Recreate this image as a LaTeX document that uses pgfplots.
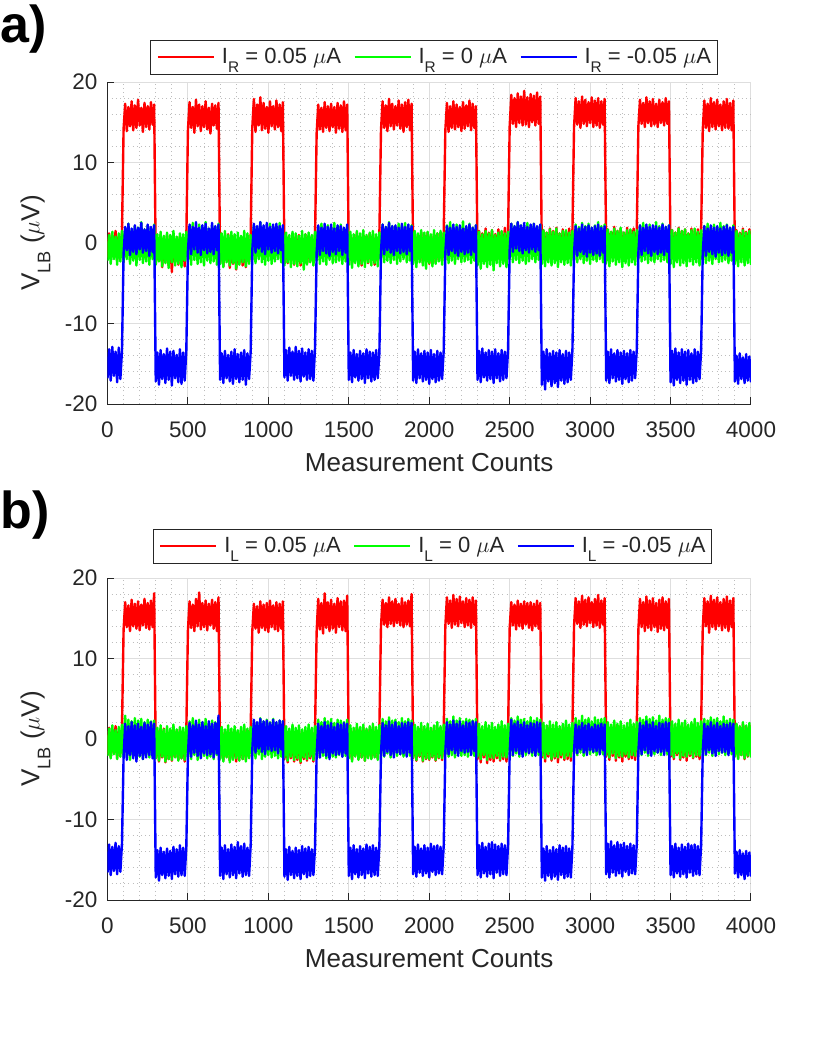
\documentclass[border=0pt]{standalone}
\usepackage{fontspec}
\setmainfont{Liberation Sans}
\usepackage{graphicx}
\usepackage{pgfplots}
\usepackage{pgfplotstable}
\pgfplotsset{compat=1.18}
\definecolor{axgray}{rgb}{0.15,0.15,0.15}
\definecolor{gmaj}{rgb}{0.87,0.87,0.87}
\definecolor{gmin}{rgb}{0.74,0.74,0.74}
\definecolor{mred}{rgb}{1,0,0}
\definecolor{mgreen}{rgb}{0,1,0}
\definecolor{mblue}{rgb}{0,0,1}
\newcommand{\sub}[1]{\raisebox{-0.42em}{\scalebox{0.7}{#1}}}

% ---------- panel a data (x = 10 * row index) ----------
\pgfplotstableread[header=false,row sep=\\]{
-1.8\\1.2\\-2.0\\0.9\\-1.6\\1.5\\-2.1\\0.8\\-1.4\\1.3\\
14.2\\17.3\\13.9\\16.9\\14.5\\17.6\\14.0\\17.1\\14.3\\17.8\\14.6\\16.8\\13.8\\17.4\\14.4\\17.0\\14.1\\17.5\\14.7\\17.2\\
-2.6\\0.6\\-2.2\\0.9\\-3.0\\0.4\\-2.4\\1.0\\-2.8\\0.5\\-3.6\\0.7\\-2.3\\0.3\\-2.7\\0.8\\-2.1\\0.5\\-2.9\\0.6\\
14.0\\17.5\\14.3\\16.9\\13.7\\17.8\\14.5\\17.2\\13.9\\17.0\\14.4\\17.6\\14.1\\16.8\\13.6\\17.3\\14.6\\17.1\\14.2\\17.4\\
-2.4\\0.7\\-2.9\\0.4\\-2.2\\1.1\\-3.1\\0.5\\-2.6\\0.9\\-3.3\\0.3\\-2.5\\0.8\\-2.8\\0.4\\-3.0\\0.6\\-2.3\\0.9\\
14.3\\17.9\\13.8\\17.2\\14.6\\18.1\\14.0\\17.4\\14.2\\16.9\\13.7\\17.6\\14.5\\17.0\\14.1\\17.7\\14.4\\17.2\\13.9\\17.5\\
-2.0\\0.9\\-2.5\\0.6\\-1.9\\1.2\\-2.7\\0.8\\-2.2\\1.0\\-2.8\\0.5\\-2.1\\1.1\\-2.6\\0.7\\-2.3\\0.9\\-2.5\\0.6\\
13.6\\17.2\\14.1\\16.8\\13.8\\17.5\\14.3\\17.0\\13.9\\17.3\\14.4\\16.9\\13.7\\17.4\\14.2\\17.1\\13.8\\17.6\\14.0\\17.2\\
-2.1\\1.0\\-2.6\\0.7\\-2.0\\1.3\\-2.4\\0.8\\-2.8\\1.0\\-2.2\\0.6\\-2.5\\1.2\\-2.0\\0.9\\-2.7\\0.7\\-2.3\\1.1\\
14.0\\17.6\\14.3\\17.1\\13.9\\17.9\\14.5\\17.3\\14.1\\17.0\\14.6\\17.7\\14.2\\17.2\\13.8\\17.5\\14.4\\17.8\\14.0\\17.3\\
-1.8\\1.2\\-2.3\\0.9\\-1.7\\1.4\\-2.5\\1.0\\-2.0\\1.3\\-2.6\\0.8\\-1.9\\1.1\\-2.4\\1.2\\-2.1\\0.9\\-2.2\\1.3\\
14.0\\17.4\\13.8\\17.0\\14.3\\17.6\\14.1\\17.2\\14.4\\16.9\\13.9\\17.5\\14.2\\17.1\\14.5\\17.7\\14.0\\17.3\\14.3\\17.0\\
-1.6\\1.5\\-2.0\\1.2\\-1.5\\1.8\\-2.2\\1.3\\-1.7\\1.6\\-2.4\\1.1\\-1.8\\1.7\\-2.1\\1.4\\-1.6\\1.9\\-2.0\\1.3\\
14.5\\18.4\\14.8\\18.0\\14.4\\18.6\\14.9\\18.2\\14.6\\18.9\\14.7\\18.1\\14.4\\18.5\\15.0\\18.3\\14.6\\18.7\\14.8\\18.2\\
-1.5\\1.6\\-1.9\\1.3\\-1.4\\1.8\\-2.0\\1.5\\-1.6\\1.9\\-2.1\\1.2\\-1.7\\1.7\\-1.5\\1.4\\-1.9\\1.8\\-1.6\\1.5\\
14.4\\18.0\\14.7\\17.6\\14.3\\18.2\\14.8\\17.8\\14.5\\17.5\\14.9\\18.1\\14.4\\17.7\\14.6\\18.0\\14.3\\17.6\\14.7\\17.9\\
-1.4\\1.7\\-1.8\\1.4\\-1.5\\2.0\\-1.9\\1.5\\-1.6\\1.8\\-2.0\\1.3\\-1.5\\1.9\\-1.7\\1.6\\-1.4\\1.8\\-1.9\\1.5\\
14.5\\17.8\\14.8\\17.4\\14.4\\18.1\\14.9\\17.6\\14.5\\17.9\\14.7\\17.3\\14.4\\17.8\\14.9\\17.5\\14.6\\18.0\\14.8\\17.6\\
-1.4\\1.6\\-1.9\\1.3\\-1.5\\1.9\\-2.0\\1.5\\-1.6\\1.7\\-2.1\\1.2\\-1.5\\1.8\\-1.8\\1.5\\-1.4\\1.7\\-1.9\\1.6\\
14.0\\17.7\\14.3\\17.3\\13.9\\18.0\\14.4\\17.5\\14.1\\17.8\\14.5\\17.2\\14.0\\17.6\\14.3\\17.9\\14.2\\17.4\\14.0\\17.7\\
-1.5\\1.6\\-1.9\\1.3\\-1.4\\1.8\\-2.0\\1.4\\-1.6\\1.7\\-1.2\\
}\redA

\pgfplotstableread[header=false,row sep=\\]{
-2.2\\1.0\\-2.6\\1.4\\-2.0\\0.8\\-2.7\\1.2\\-2.3\\1.5\\
-2.4\\1.8\\-2.0\\2.4\\-2.6\\1.6\\-2.2\\2.1\\-2.8\\1.9\\-2.1\\2.6\\-2.5\\1.7\\-2.3\\2.2\\-2.7\\1.8\\-2.0\\2.3\\
-2.7\\1.1\\-2.3\\1.4\\-2.9\\0.9\\-2.5\\1.3\\-3.1\\1.0\\-2.4\\1.5\\-2.8\\0.8\\-2.6\\1.2\\-3.0\\1.1\\-2.2\\1.4\\
-2.3\\2.0\\-2.7\\2.5\\-2.1\\1.7\\-2.6\\2.3\\-2.4\\1.9\\-2.8\\2.6\\-2.2\\1.8\\-2.5\\2.2\\-2.3\\2.0\\-2.7\\2.4\\
-2.6\\1.2\\-3.0\\1.5\\-2.4\\1.0\\-2.8\\1.4\\-2.5\\1.1\\-3.2\\1.3\\-2.7\\0.9\\-2.4\\1.5\\-2.9\\1.2\\-2.6\\1.0\\
-2.1\\2.2\\-2.5\\1.9\\-2.0\\2.6\\-2.4\\2.0\\-2.7\\1.8\\-2.2\\2.4\\-2.6\\1.9\\-2.3\\2.1\\-2.0\\2.5\\-2.4\\1.8\\
-2.8\\1.3\\-2.4\\1.0\\-3.0\\1.4\\-2.6\\1.2\\-2.9\\0.9\\-2.5\\1.5\\-3.3\\1.1\\-2.7\\1.3\\-2.4\\1.0\\-2.8\\1.4\\
-2.2\\2.1\\-2.6\\2.4\\-2.3\\1.8\\-2.7\\2.2\\-2.1\\1.9\\-2.5\\2.5\\-2.4\\2.0\\-2.2\\2.3\\-2.6\\1.8\\-2.3\\2.1\\
-2.7\\1.4\\-3.1\\1.1\\-2.5\\1.5\\-2.9\\1.2\\-2.6\\1.6\\-3.0\\1.0\\-2.4\\1.3\\-2.8\\1.5\\-2.5\\1.1\\-2.9\\1.3\\
-2.0\\2.3\\-2.4\\2.0\\-2.2\\2.6\\-2.5\\2.1\\-2.1\\1.9\\-2.6\\2.4\\-2.3\\2.2\\-2.0\\2.5\\-2.4\\1.9\\-2.2\\2.2\\
-2.6\\1.5\\-3.0\\1.2\\-2.4\\1.6\\-2.8\\1.3\\-3.2\\1.4\\-2.5\\1.1\\-2.9\\1.6\\-2.6\\1.2\\-2.3\\1.5\\-2.7\\1.3\\
-2.1\\2.2\\-2.5\\2.6\\-2.2\\1.9\\-2.6\\2.3\\-2.0\\2.1\\-2.4\\2.7\\-2.3\\2.0\\-2.1\\2.4\\-2.5\\1.9\\-2.2\\2.2\\
-2.8\\1.4\\-3.2\\1.1\\-2.6\\1.5\\-3.0\\1.2\\-2.7\\1.6\\-3.4\\1.0\\-2.5\\1.3\\-2.9\\1.5\\-2.6\\1.2\\-3.0\\1.4\\
-2.0\\2.4\\-2.4\\2.1\\-2.1\\2.6\\-2.5\\2.2\\-2.2\\2.0\\-2.6\\2.5\\-2.3\\2.2\\-2.0\\2.4\\-2.4\\2.0\\-2.1\\2.3\\
-2.6\\1.6\\-2.9\\1.3\\-2.4\\1.7\\-2.8\\1.4\\-2.5\\1.8\\-3.0\\1.2\\-2.4\\1.5\\-2.7\\1.6\\-2.5\\1.3\\-2.8\\1.5\\
-2.1\\2.3\\-2.4\\2.0\\-2.0\\2.5\\-2.5\\2.1\\-2.2\\2.4\\-2.6\\1.9\\-2.1\\2.2\\-2.3\\2.6\\-2.0\\2.1\\-2.4\\2.3\\
-2.5\\1.7\\-2.9\\1.4\\-2.3\\1.8\\-2.7\\1.5\\-2.4\\1.9\\-3.0\\1.3\\-2.5\\1.6\\-2.8\\1.7\\-2.4\\1.4\\-2.7\\1.6\\
-2.0\\2.2\\-2.3\\2.5\\-2.1\\2.0\\-2.5\\2.3\\-2.2\\1.9\\-2.4\\2.6\\-2.0\\2.1\\-2.3\\2.4\\-2.1\\2.0\\-2.4\\2.2\\
-2.6\\1.6\\-3.0\\1.3\\-2.4\\1.8\\-2.8\\1.5\\-2.5\\1.7\\-2.9\\1.2\\-2.3\\1.6\\-2.7\\1.8\\-2.4\\1.4\\-2.8\\1.6\\
-2.1\\2.1\\-2.5\\2.4\\-2.2\\1.9\\-2.6\\2.3\\-2.0\\2.0\\-2.4\\2.5\\-2.3\\2.1\\-2.1\\2.3\\-2.5\\1.9\\-2.2\\2.2\\
-2.6\\1.5\\-2.9\\1.2\\-2.4\\1.6\\-2.8\\1.3\\-2.5\\1.5\\-2.7\\
}\greenA

\pgfplotstableread[header=false,row sep=\\]{
-16.8\\-13.2\\-17.1\\-12.9\\-16.5\\-13.5\\-17.3\\-13.0\\-16.9\\-13.4\\
-1.3\\2.0\\-0.9\\2.4\\-1.5\\1.8\\-1.1\\2.2\\-1.4\\1.9\\-0.8\\2.5\\-1.2\\1.7\\-1.0\\2.3\\-1.6\\2.0\\-1.1\\2.2\\
-17.2\\-13.6\\-17.6\\-13.3\\-16.9\\-13.8\\-17.4\\-13.1\\-17.0\\-13.5\\-17.7\\-13.4\\-16.8\\-13.9\\-17.3\\-13.2\\-17.5\\-13.6\\-17.1\\-13.3\\
-1.0\\2.3\\-1.4\\2.0\\-0.8\\2.6\\-1.2\\1.9\\-1.5\\2.2\\-0.9\\2.4\\-1.3\\1.8\\-1.1\\2.5\\-1.4\\2.1\\-0.9\\2.3\\
-17.0\\-13.7\\-17.4\\-13.4\\-16.8\\-13.9\\-17.2\\-13.5\\-17.5\\-13.2\\-16.9\\-13.8\\-17.3\\-13.6\\-17.0\\-13.3\\-17.6\\-13.7\\-16.9\\-13.5\\
-0.9\\2.4\\-1.2\\2.1\\-0.7\\2.6\\-1.1\\2.2\\-1.4\\2.5\\-0.8\\2.0\\-1.2\\2.3\\-1.0\\2.4\\-1.3\\2.1\\-0.9\\2.2\\
-16.7\\-13.3\\-17.1\\-13.0\\-16.5\\-13.5\\-17.0\\-12.9\\-16.8\\-13.4\\-17.2\\-13.1\\-16.6\\-13.6\\-17.0\\-13.2\\-16.9\\-13.4\\-17.1\\-13.0\\
-1.2\\2.2\\-1.5\\1.9\\-1.0\\2.4\\-1.3\\2.0\\-1.6\\2.3\\-1.1\\1.8\\-1.4\\2.2\\-1.0\\2.1\\-1.5\\1.9\\-1.2\\2.3\\
-17.0\\-13.6\\-17.3\\-13.3\\-16.7\\-13.8\\-17.1\\-13.4\\-16.9\\-13.7\\-17.4\\-13.2\\-16.8\\-13.5\\-17.2\\-13.6\\-17.0\\-13.3\\-16.8\\-13.7\\
-1.1\\2.3\\-1.4\\2.0\\-0.9\\2.5\\-1.2\\2.1\\-1.5\\2.2\\-1.0\\1.9\\-1.3\\2.4\\-1.1\\2.0\\-1.4\\2.3\\-1.0\\2.1\\
-17.1\\-13.5\\-17.4\\-13.2\\-16.8\\-13.7\\-17.2\\-13.4\\-17.0\\-13.6\\-17.5\\-13.3\\-16.9\\-13.8\\-17.3\\-13.4\\-17.1\\-13.6\\-16.9\\-13.3\\
-1.2\\2.1\\-1.5\\1.9\\-1.0\\2.3\\-1.3\\2.0\\-1.6\\2.2\\-1.1\\1.8\\-1.4\\2.1\\-1.2\\2.3\\-1.5\\1.9\\-1.1\\2.2\\
-17.0\\-13.4\\-17.3\\-13.1\\-16.7\\-13.6\\-17.1\\-13.3\\-16.9\\-13.5\\-17.4\\-13.2\\-16.8\\-13.7\\-17.2\\-13.3\\-17.0\\-13.5\\-16.8\\-13.2\\
-0.8\\2.4\\-1.1\\2.1\\-0.7\\2.6\\-1.0\\2.2\\-1.3\\2.5\\-0.9\\2.0\\-1.2\\2.3\\-0.8\\2.4\\-1.1\\2.1\\-0.9\\2.3\\
-17.6\\-13.5\\-18.2\\-13.2\\-17.2\\-13.7\\-17.8\\-13.4\\-17.4\\-13.6\\-17.9\\-13.3\\-17.1\\-13.8\\-17.5\\-13.4\\-17.3\\-13.6\\-17.0\\-13.3\\
-1.3\\2.1\\-1.6\\1.8\\-1.1\\2.3\\-1.4\\2.0\\-1.7\\2.2\\-1.2\\1.9\\-1.5\\2.1\\-1.3\\2.3\\-1.6\\1.9\\-1.2\\2.1\\
-17.1\\-13.5\\-17.4\\-13.2\\-16.8\\-13.7\\-17.2\\-13.3\\-17.0\\-13.6\\-17.5\\-13.4\\-16.9\\-13.7\\-17.3\\-13.3\\-17.1\\-13.5\\-16.8\\-13.2\\
-1.2\\2.2\\-1.5\\1.9\\-1.0\\2.3\\-1.3\\2.0\\-1.6\\2.2\\-1.1\\2.1\\-1.4\\1.9\\-1.2\\2.3\\-1.5\\2.0\\-1.1\\2.2\\
-17.3\\-13.4\\-17.7\\-13.1\\-17.0\\-13.6\\-17.4\\-13.2\\-17.1\\-13.5\\-17.6\\-13.3\\-17.0\\-13.7\\-17.4\\-13.2\\-17.2\\-13.5\\-16.9\\-13.3\\
-1.3\\2.1\\-1.6\\1.8\\-1.1\\2.2\\-1.4\\1.9\\-1.7\\2.1\\-1.2\\1.8\\-1.5\\2.0\\-1.3\\2.2\\-1.6\\1.9\\-1.2\\2.0\\
-17.2\\-14.0\\-17.5\\-13.7\\-16.9\\-14.2\\-17.4\\-13.8\\-17.1\\-14.1\\-17.3\\
}\blueA

% ---------- panel b data ----------
\pgfplotstableread[header=false,row sep=\\]{
-1.9\\1.4\\-2.2\\1.1\\-1.7\\1.6\\-2.4\\1.0\\-1.8\\1.3\\
13.6\\17.0\\13.9\\16.6\\13.4\\17.3\\14.0\\16.8\\13.7\\17.1\\13.5\\16.7\\14.1\\17.4\\13.8\\16.9\\13.6\\17.2\\13.9\\18.1\\
-2.4\\1.1\\-2.8\\0.8\\-2.3\\1.3\\-2.9\\0.9\\-2.5\\1.2\\-2.7\\0.7\\-2.2\\1.0\\-2.6\\1.2\\-2.4\\0.9\\-2.8\\1.1\\
13.5\\17.1\\13.8\\16.7\\13.4\\17.4\\14.0\\18.2\\13.6\\16.9\\13.9\\17.2\\13.5\\16.8\\14.1\\17.3\\13.7\\17.0\\13.4\\17.6\\
-2.3\\1.0\\-2.6\\0.8\\-2.2\\1.2\\-2.7\\0.9\\-2.4\\1.1\\-2.8\\0.7\\-2.3\\1.0\\-2.5\\1.3\\-2.6\\0.8\\-2.2\\1.1\\
13.4\\16.8\\13.7\\16.5\\13.2\\17.1\\13.8\\16.7\\13.5\\16.9\\13.3\\17.2\\13.9\\16.6\\13.6\\17.0\\13.4\\16.8\\13.7\\17.1\\
-2.5\\1.0\\-2.9\\0.7\\-2.4\\1.2\\-2.8\\0.9\\-2.6\\1.1\\-3.0\\0.8\\-2.5\\1.0\\-2.7\\1.2\\-2.4\\0.9\\-2.8\\1.0\\
13.3\\17.4\\13.6\\16.9\\13.1\\18.1\\13.8\\17.0\\13.4\\17.3\\13.7\\16.8\\13.2\\17.5\\13.9\\17.1\\13.5\\17.2\\13.4\\17.8\\
-2.2\\1.3\\-2.6\\1.0\\-2.1\\1.5\\-2.5\\1.1\\-2.3\\1.4\\-2.7\\0.9\\-2.2\\1.2\\-2.4\\1.5\\-2.1\\1.0\\-2.5\\1.3\\
14.0\\17.3\\14.2\\16.9\\13.9\\17.6\\14.3\\17.1\\14.0\\17.4\\14.4\\16.8\\14.1\\17.5\\13.9\\17.0\\14.2\\17.2\\14.0\\18.0\\
-2.4\\1.3\\-2.7\\1.0\\-2.2\\1.5\\-2.8\\1.2\\-2.5\\1.4\\-2.6\\1.1\\-2.3\\1.6\\-2.7\\1.2\\-2.4\\1.4\\-2.6\\1.1\\
14.0\\17.6\\14.3\\17.2\\13.8\\17.9\\14.2\\17.4\\14.0\\17.7\\14.4\\17.1\\13.9\\17.5\\14.1\\17.3\\13.8\\17.6\\14.2\\17.2\\
-2.5\\1.4\\-2.9\\1.1\\-2.3\\1.5\\-3.0\\1.2\\-2.6\\1.3\\-2.8\\1.0\\-2.4\\1.6\\-2.7\\1.2\\-2.5\\1.4\\-2.8\\1.1\\
13.8\\17.0\\14.1\\16.7\\13.6\\17.2\\14.0\\16.8\\13.7\\17.1\\14.2\\16.9\\13.8\\17.0\\13.5\\16.8\\14.0\\17.2\\13.7\\16.9\\
-2.3\\1.5\\-2.8\\1.2\\-2.2\\1.7\\-2.7\\1.3\\-2.4\\1.6\\-2.9\\1.1\\-2.3\\1.4\\-2.6\\1.7\\-2.5\\1.3\\-2.7\\1.5\\
14.0\\17.5\\14.3\\17.1\\13.8\\17.8\\14.2\\17.3\\14.0\\17.6\\14.4\\17.0\\13.9\\17.4\\14.1\\17.9\\13.8\\17.2\\14.2\\17.5\\
-2.2\\1.6\\-2.6\\1.3\\-2.1\\1.8\\-2.7\\1.4\\-2.3\\1.7\\-2.8\\1.2\\-2.2\\1.5\\-2.5\\1.8\\-2.4\\1.4\\-2.6\\1.6\\
13.6\\17.4\\13.9\\17.0\\13.4\\17.7\\13.8\\17.2\\13.5\\17.5\\13.9\\16.9\\13.3\\17.3\\13.7\\17.6\\13.5\\17.1\\13.8\\17.4\\
-2.2\\1.7\\-2.5\\1.4\\-2.0\\1.9\\-2.6\\1.5\\-2.3\\1.8\\-2.7\\1.3\\-2.1\\1.6\\-2.4\\1.9\\-2.2\\1.5\\-2.5\\1.7\\
13.7\\17.5\\14.0\\17.1\\13.2\\17.8\\13.9\\17.3\\13.6\\17.6\\14.0\\17.0\\13.5\\17.4\\13.8\\17.7\\13.4\\17.2\\13.9\\17.5\\
-2.1\\1.8\\-2.4\\1.5\\-2.0\\1.9\\-2.5\\1.6\\-2.2\\1.7\\-1.9\\
}\redB

\pgfplotstableread[header=false,row sep=\\]{
-2.1\\1.3\\-2.4\\1.7\\-1.9\\1.1\\-2.5\\1.5\\-2.2\\1.8\\
-2.3\\2.9\\-2.0\\2.4\\-2.6\\2.2\\-2.1\\2.6\\-2.4\\2.3\\-2.2\\2.5\\-2.5\\2.1\\-2.0\\2.4\\-2.3\\2.2\\-2.1\\2.3\\
-2.4\\1.4\\-2.7\\1.7\\-2.2\\1.2\\-2.8\\1.6\\-2.5\\1.3\\-2.6\\1.8\\-2.3\\1.2\\-2.7\\1.5\\-2.4\\1.4\\-2.6\\1.6\\
-2.2\\2.2\\-2.5\\2.6\\-2.0\\2.0\\-2.6\\2.4\\-2.3\\2.1\\-2.1\\2.5\\-2.4\\2.0\\-2.2\\2.3\\-2.5\\2.1\\-2.0\\2.4\\
-2.5\\1.5\\-2.8\\1.2\\-2.3\\1.7\\-2.9\\1.3\\-2.6\\1.6\\-2.4\\1.1\\-2.7\\1.5\\-2.5\\1.8\\-2.8\\1.3\\-2.4\\1.5\\
-2.1\\2.3\\-2.4\\2.0\\-1.9\\2.6\\-2.5\\2.2\\-2.2\\2.4\\-2.0\\2.1\\-2.3\\2.5\\-2.1\\2.0\\-2.4\\2.3\\-2.2\\2.2\\
-2.3\\1.6\\-2.7\\1.3\\-2.2\\1.8\\-2.6\\1.4\\-2.4\\1.7\\-2.8\\1.2\\-2.3\\1.5\\-2.5\\1.8\\-2.2\\1.4\\-2.6\\1.6\\
-2.0\\2.4\\-2.3\\2.1\\-2.1\\2.6\\-2.4\\2.2\\-1.9\\2.5\\-2.2\\2.0\\-2.3\\2.4\\-2.0\\2.3\\-2.2\\2.1\\-2.1\\2.4\\
-2.4\\1.7\\-2.8\\1.4\\-2.2\\1.9\\-2.6\\1.5\\-2.3\\1.8\\-2.7\\1.3\\-2.4\\1.6\\-2.5\\1.9\\-2.3\\1.5\\-2.6\\1.7\\
-2.0\\2.5\\-2.2\\2.2\\-1.8\\2.7\\-2.3\\2.3\\-2.0\\2.4\\-2.1\\2.1\\-1.9\\2.6\\-2.2\\2.2\\-2.0\\2.5\\-2.1\\2.3\\
-2.3\\1.8\\-2.6\\1.5\\-2.1\\2.0\\-2.7\\1.6\\-2.4\\1.9\\-2.5\\1.4\\-2.2\\1.7\\-2.6\\2.1\\-2.3\\1.6\\-2.4\\1.8\\
-1.9\\2.5\\-2.2\\2.2\\-2.0\\2.8\\-2.3\\2.3\\-1.8\\2.6\\-2.1\\2.2\\-2.0\\2.5\\-2.2\\2.4\\-1.9\\2.3\\-2.1\\2.5\\
-2.2\\1.9\\-2.5\\1.6\\-2.0\\2.1\\-2.6\\1.7\\-2.3\\2.0\\-2.4\\1.5\\-2.1\\1.8\\-2.5\\2.2\\-2.2\\1.7\\-2.3\\1.9\\
-1.9\\2.6\\-2.1\\2.3\\-1.8\\2.8\\-2.2\\2.4\\-1.9\\2.5\\-2.0\\2.2\\-1.8\\2.7\\-2.1\\2.3\\-1.9\\2.6\\-2.0\\2.4\\
-2.1\\2.0\\-2.4\\1.7\\-1.9\\2.2\\-2.5\\1.8\\-2.2\\2.1\\-2.3\\1.6\\-2.0\\1.9\\-2.4\\2.3\\-2.1\\1.8\\-2.2\\2.0\\
-1.8\\2.6\\-2.0\\2.3\\-1.7\\2.9\\-2.1\\2.4\\-1.8\\2.6\\-1.9\\2.2\\-1.7\\2.7\\-2.0\\2.4\\-1.8\\2.5\\-1.9\\2.6\\
-2.0\\2.1\\-2.3\\1.8\\-1.8\\2.3\\-2.4\\1.9\\-2.1\\2.2\\-2.2\\1.7\\-1.9\\2.0\\-2.3\\2.4\\-2.0\\1.9\\-2.1\\2.1\\
-1.8\\2.6\\-2.0\\2.4\\-1.7\\2.8\\-2.1\\2.5\\-1.8\\2.7\\-1.9\\2.3\\-1.7\\2.9\\-2.0\\2.4\\-1.8\\2.6\\-1.9\\2.5\\
-2.0\\2.2\\-2.3\\1.9\\-1.8\\2.4\\-2.4\\2.0\\-2.1\\2.3\\-2.2\\1.8\\-1.9\\2.1\\-2.3\\2.5\\-2.0\\2.0\\-2.1\\2.2\\
-1.8\\2.5\\-2.0\\2.3\\-1.7\\2.7\\-2.1\\2.4\\-1.8\\2.6\\-1.9\\2.2\\-1.7\\2.8\\-2.0\\2.3\\-1.8\\2.5\\-1.9\\2.4\\
-2.2\\1.9\\-2.5\\1.6\\-2.0\\2.1\\-2.4\\1.7\\-2.1\\2.0\\-2.3\\
}\greenB

\pgfplotstableread[header=false,row sep=\\]{
-16.6\\-13.1\\-16.9\\-13.4\\-16.4\\-12.9\\-16.8\\-13.3\\-16.5\\-13.0\\
-2.2\\1.9\\-2.6\\1.6\\-2.0\\2.1\\-2.4\\1.7\\-2.8\\1.9\\-2.1\\1.5\\-2.5\\2.0\\-2.3\\1.8\\-2.0\\2.1\\-2.4\\1.9\\
-17.2\\-13.8\\-17.6\\-13.5\\-16.9\\-14.0\\-17.3\\-13.6\\-17.0\\-13.9\\-17.4\\-13.4\\-16.8\\-13.7\\-17.1\\-13.2\\-16.9\\-13.5\\-17.0\\-13.3\\
-1.9\\2.0\\-2.2\\1.7\\-1.7\\2.3\\-2.1\\1.8\\-2.4\\2.1\\-1.8\\1.6\\-2.0\\2.2\\-1.9\\1.9\\-2.3\\2.0\\-1.8\\2.9\\
-17.0\\-13.5\\-17.4\\-13.2\\-16.8\\-13.7\\-17.2\\-13.1\\-16.9\\-13.4\\-17.3\\-12.8\\-16.7\\-13.3\\-17.1\\-13.0\\-16.9\\-13.5\\-17.0\\-13.2\\
-1.4\\2.4\\-1.7\\2.1\\-1.2\\2.5\\-1.6\\2.2\\-1.9\\2.3\\-1.3\\2.0\\-1.5\\2.4\\-1.4\\2.1\\-1.8\\2.3\\-1.3\\2.2\\
-17.1\\-13.7\\-17.5\\-13.4\\-16.9\\-13.9\\-17.3\\-13.5\\-17.0\\-13.8\\-17.4\\-13.3\\-16.8\\-13.6\\-17.2\\-13.4\\-17.0\\-13.7\\-16.9\\-13.5\\
-1.9\\1.9\\-2.3\\1.6\\-1.7\\2.1\\-2.1\\1.7\\-2.5\\2.0\\-1.8\\1.5\\-2.0\\1.9\\-1.9\\1.8\\-2.2\\2.0\\-1.8\\1.9\\
-17.0\\-13.5\\-17.4\\-13.2\\-16.8\\-13.7\\-17.2\\-13.3\\-16.9\\-13.6\\-17.3\\-13.1\\-16.7\\-13.4\\-17.1\\-13.2\\-16.9\\-13.5\\-17.0\\-13.3\\
-1.8\\2.0\\-2.1\\1.7\\-1.6\\2.2\\-2.0\\1.8\\-2.3\\2.1\\-1.7\\1.6\\-1.9\\2.0\\-1.8\\1.9\\-2.2\\2.1\\-1.7\\2.0\\
-16.8\\-13.4\\-17.1\\-13.1\\-16.6\\-13.6\\-17.0\\-13.2\\-16.7\\-13.5\\-17.2\\-13.0\\-16.5\\-13.3\\-16.9\\-13.2\\-16.7\\-13.4\\-16.8\\-13.2\\
-1.6\\2.1\\-1.9\\1.8\\-1.4\\2.3\\-1.8\\1.9\\-2.1\\2.2\\-1.5\\1.7\\-1.7\\2.1\\-1.6\\2.0\\-2.0\\2.2\\-1.5\\2.1\\
-16.9\\-13.2\\-17.2\\-12.9\\-16.7\\-13.4\\-17.1\\-13.0\\-16.8\\-12.8\\-17.3\\-13.1\\-16.6\\-13.3\\-17.0\\-13.0\\-16.8\\-13.2\\-16.9\\-13.1\\
-1.7\\2.4\\-2.0\\1.9\\-1.5\\2.2\\-1.9\\1.8\\-2.2\\2.1\\-1.6\\1.7\\-1.8\\2.0\\-1.7\\1.9\\-2.1\\2.1\\-1.6\\2.0\\
-17.2\\-13.6\\-17.6\\-13.3\\-17.0\\-13.8\\-17.4\\-13.4\\-17.1\\-13.7\\-17.5\\-13.2\\-16.9\\-13.5\\-17.3\\-13.3\\-17.1\\-13.6\\-17.2\\-13.4\\
-1.5\\1.8\\-1.8\\1.6\\-1.3\\2.0\\-1.7\\1.7\\-2.0\\1.9\\-1.4\\1.5\\-1.6\\1.8\\-1.5\\1.7\\-1.9\\1.9\\-1.4\\1.8\\
-16.8\\-13.0\\-17.2\\-12.7\\-16.6\\-13.2\\-17.0\\-12.8\\-16.7\\-13.1\\-17.1\\-12.9\\-16.5\\-13.3\\-16.9\\-13.0\\-16.7\\-13.2\\-16.8\\-13.0\\
-1.6\\2.0\\-1.9\\1.7\\-1.4\\2.2\\-1.8\\1.8\\-2.1\\2.1\\-1.5\\1.6\\-1.7\\2.0\\-1.6\\1.9\\-2.0\\2.1\\-1.5\\2.0\\
-16.9\\-13.3\\-17.2\\-13.0\\-16.7\\-13.5\\-17.1\\-13.1\\-16.8\\-13.4\\-17.2\\-13.0\\-16.6\\-13.2\\-17.0\\-13.1\\-16.8\\-13.3\\-16.9\\-13.2\\
-1.6\\1.9\\-1.9\\1.6\\-1.4\\2.1\\-1.8\\1.7\\-2.1\\2.0\\-1.5\\1.6\\-1.7\\1.9\\-1.6\\1.8\\-2.0\\2.0\\-1.5\\1.9\\
-16.7\\-14.0\\-17.2\\-13.8\\-16.9\\-14.2\\-17.4\\-13.9\\-17.0\\-14.1\\-17.1\\
}\blueB

\pgfplotsset{
  myax/.style={
    scale only axis, width=321.75pt, height=161pt,
    xmin=0, xmax=4000, ymin=-20, ymax=20,
    xtick={0,500,...,4000}, ytick={-20,-10,0,10,20},
    minor x tick num=4, minor y tick num=4,
    scaled x ticks=false,
    /pgf/number format/1000 sep={},
    /pgf/number format/assume math mode=true,
    axis x line*=bottom, axis y line*=left,
    axis line style={axgray, line width=0.5pt},
    tick align=inside, major tick length=3.4pt, minor tick length=0pt,
    tick style={axgray, line width=0.5pt},
    grid=both,
    major grid style={gmaj, line width=0.5pt},
    minor grid style={gmin, line width=0.5pt, dash pattern=on 0.5pt off 1.6pt},
    tick label style={font=\fontsize{11.25}{13}\selectfont, color=axgray},
    xticklabel style={anchor=base, yshift=-16.5pt},
    yticklabel style={anchor=east, xshift=-1.5pt},
    label style={font=\fontsize{13}{15}\selectfont, color=axgray},
    xlabel style={at={([yshift=-33.75pt]axis description cs:0.5,0)}, anchor=base},
    ylabel style={at={([xshift=-34pt]axis description cs:0,0.5)}, anchor=base},
    xlabel={Measurement Counts},
    ylabel={V\sub{LB} ($\mu$V)},
    legend columns=3,
    legend image code/.code={\draw[#1, line width=1pt] (0pt,0pt) -- (28pt,0pt);},
    legend style={draw=axgray, line width=0.5pt, fill=white,
      font=\fontsize{11}{13}\selectfont, text=axgray,
      inner xsep=3pt, inner ysep=4pt,
      nodes={inner sep=0pt},
      /tikz/every odd column/.append style={column sep=3.5pt},
      /tikz/every even column/.append style={column sep=6.25pt}},
    every axis plot/.append style={line width=1.2pt, line join=round},
  }
}

\begin{document}
\begin{tikzpicture}
\useasboundingbox (0pt,0pt) rectangle (415pt,-530.5pt);

\node[anchor=base west, inner sep=0pt, font=\fontsize{26}{26}\selectfont\bfseries] at (0pt,-21.35pt) {a)};
\node[anchor=base west, inner sep=0pt, font=\fontsize{26}{26}\selectfont\bfseries] at (0pt,-264.15pt) {b)};

\begin{axis}[myax, at={(53.75pt,-202pt)}, anchor=south west,
  legend style={at={([yshift=3.5pt]axis description cs:0.5074,1)}, anchor=south}]
\addplot[mred] table[x expr=\coordindex*10, y index=0] {\redA};
\addlegendentry{I\sub{R} = 0.05 $\mu$A}
\addplot[mgreen] table[x expr=\coordindex*10, y index=0] {\greenA};
\addlegendentry{I\sub{R} = 0 $\mu$A}
\addplot[mblue] table[x expr=\coordindex*10, y index=0] {\blueA};
\addlegendentry{I\sub{R} = -0.05 $\mu$A}
\end{axis}

\begin{axis}[myax, at={(53.75pt,-450pt)}, anchor=south west,
  legend style={at={([yshift=7pt]axis description cs:0.505,1)}, anchor=south}]
\addplot[mred] table[x expr=\coordindex*10, y index=0] {\redB};
\addlegendentry{I\sub{L} = 0.05 $\mu$A}
\addplot[mgreen] table[x expr=\coordindex*10, y index=0] {\greenB};
\addlegendentry{I\sub{L} = 0 $\mu$A}
\addplot[mblue] table[x expr=\coordindex*10, y index=0] {\blueB};
\addlegendentry{I\sub{L} = -0.05 $\mu$A}
\end{axis}
\end{tikzpicture}
\end{document}
